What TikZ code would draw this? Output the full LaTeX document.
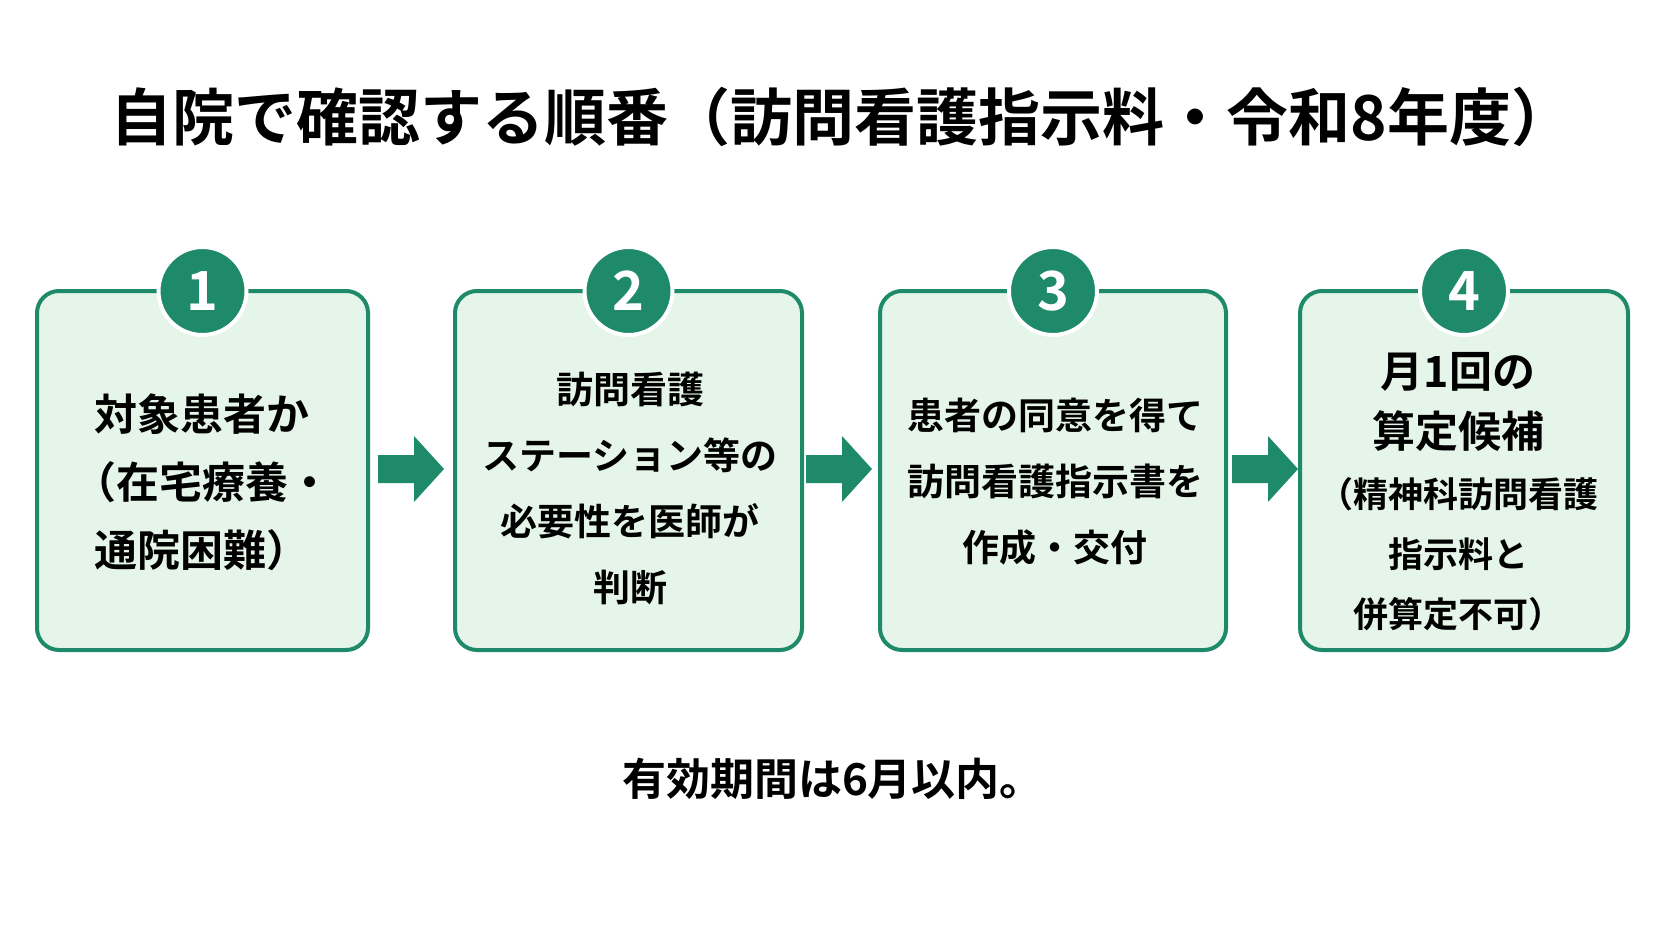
\documentclass[tikz,border=0pt]{standalone}
\usepackage{fontspec}
\setmainfont{Noto Sans CJK JP}[BoldFont={* Bold}]
\definecolor{grn}{HTML}{1E8A6A}
\definecolor{lgt}{HTML}{E6F5EA}
\begin{document}
\begin{tikzpicture}[x=1pt,y=-1pt,
 box/.style={draw=grn,line width=4pt,fill=lgt,rounded corners=22pt},
 num/.style={circle,fill=grn,draw=white,line width=4pt,minimum size=88pt,text=white,font=\fontsize{54}{56}\selectfont\bfseries},
 txt/.style={align=center,font=\fontsize{37}{66}\selectfont\bfseries},
 arr/.style={fill=grn}]
\useasboundingbox (0,0) rectangle (1672,941);
\fill[white] (0,0) rectangle (1672,941);
\node[font=\fontsize{62}{70}\selectfont\bfseries] (title) at (842,117) {自院で確認する順番（訪問看護指示料・令和8年度）};
\foreach \n/\a/\b in {1/37/368,2/455/802,3/880/1226,4/1300/1628}{
 \draw[box] (\a,291) rectangle (\b,650);
 \node[num] (c\n) at ({(\a+\b)/2},291) {\n};
}
\node[txt,font=\fontsize{43}{68}\selectfont\bfseries] (t1) at (202,482) {対象患者か\\（在宅療養・\\通院困難）};
\node[txt] (t2) at (630,488) {訪問看護\\ステーション等の\\必要性を医師が\\判断};
\node[txt] (t3) at (1055,482) {患者の同意を得て\\訪問看護指示書を\\作成・交付};
\node[txt,font=\fontsize{35}{60}\selectfont\bfseries] (t4) at (1458,492) {{\fontsize{43}{61}\selectfont 月1回の}\\{\fontsize{43}{61}\selectfont 算定候補}\\（精神科訪問看護\\指示料と\\併算定不可）};
\foreach \x in {378,806,1232}{
 \fill[arr] (\x,455) -- (\x+36,455) -- (\x+36,436) -- (\x+66,469) -- (\x+36,502) -- (\x+36,483) -- (\x,483) -- cycle;
}
\node[font=\fontsize{44}{48}\selectfont\bfseries] (foot) at (833,779) {有効期間は6月以内。};
\end{tikzpicture}
\end{document}
